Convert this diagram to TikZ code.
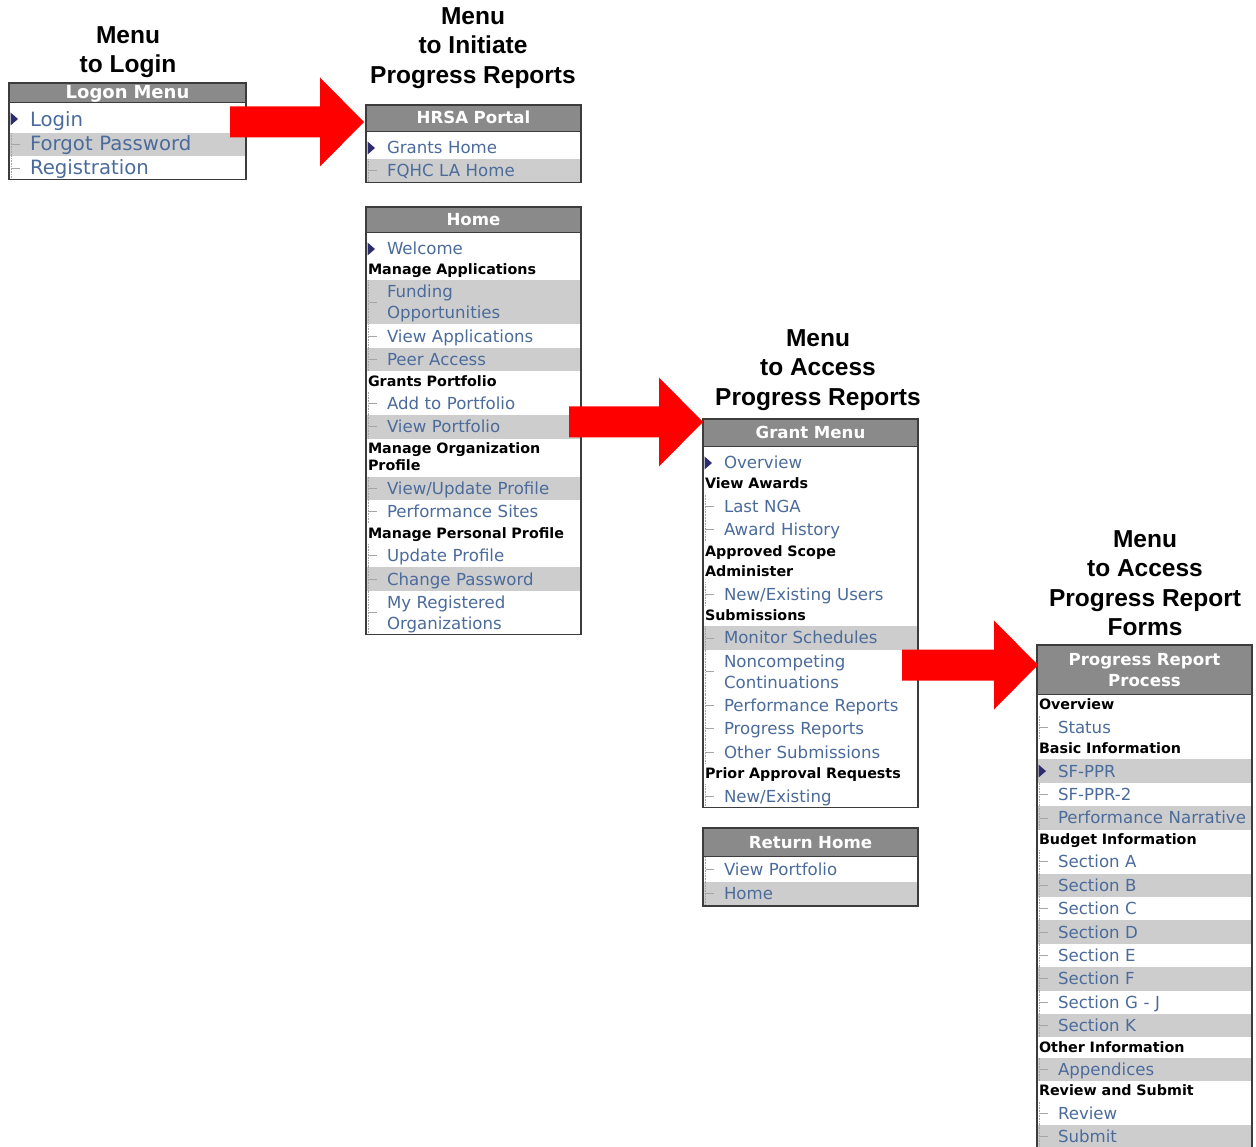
\documentclass[tikz,border=0pt]{standalone}
\usepackage{fontspec}
\setmainfont{DejaVu Sans}
\newfontfamily\captionfont{Liberation Sans}
\usetikzlibrary{calc,positioning}
\definecolor{hdrgray}{HTML}{8A8A8A}
\definecolor{rowgray}{HTML}{CDCDCD}
\definecolor{linkblue}{HTML}{4B6B9B}
\definecolor{navytri}{HTML}{2C2C6E}
\definecolor{boxline}{HTML}{3C3C3C}
\definecolor{leadgray}{HTML}{A5A5A5}
\definecolor{alertred}{HTML}{FF0000}

\newcommand\itmfont{\fontsize{16.6}{21}\selectfont}
\newcommand\secfont{\fontsize{14.3}{17}\selectfont\bfseries}
\newcommand\hdrfont{\fontsize{16.6}{21}\selectfont\bfseries}
\newcommand\panelw{215pt}
% fat red arrow from a start point to its tip (both at the same height)
\newcommand\bigarrow[2]{%
  \fill[alertred] ($(#1)+(0,-15.5)$) -- ($(#2)+(-44,-15.5)$) -- ($(#2)+(-44,-44.5)$) -- (#2)
    -- ($(#2)+(-44,44.5)$) -- ($(#2)+(-44,15.5)$) -- ($(#1)+(0,15.5)$) -- cycle;}

\begin{document}
\begin{tikzpicture}[x=1pt,y=-1pt,
  row/.style={anchor=north west,inner sep=0pt,outer sep=0pt,text width=\panelw,minimum width=\panelw,align=left},
  hdr/.style={row,fill=hdrgray,draw=boxline,line width=1.2pt,text=white,font=\hdrfont,align=center,
    text height=13.5pt,text depth=2.5pt,minimum height=27pt},
  leadline/.style={leadgray,line width=.8pt},
  treeline/.style={leadgray,line width=.6pt,densely dotted},
  itm/.style={row,fill=white,font=\itmfont,text=linkblue,text height=14pt,text depth=2pt,minimum height=23.4pt,
    execute at begin node={\leftskip=21pt},
    path picture={
      \draw[treeline] ([xshift=2pt]path picture bounding box.north west) -- ([xshift=2pt]path picture bounding box.south west);
      \draw[leadline] ([xshift=3pt]path picture bounding box.west) -- ([xshift=11pt]path picture bounding box.west);}},
  gry/.style={itm,fill=rowgray},
  curmark/.style={path picture={
      \fill[navytri] ([xshift=1.5pt,yshift=6.5pt-#1]path picture bounding box.west) -- ([xshift=9pt,yshift=-#1]path picture bounding box.west)
        -- ([xshift=1.5pt,yshift=-6.5pt-#1]path picture bounding box.west) -- cycle;}},
  curmark/.default=0pt,
  firstitm/.style={itm,curmark=2.5pt,text height=16.5pt,text depth=0pt,minimum height=27pt},
  loginitm/.style={firstitm,curmark=1pt,text height=17pt,minimum height=30pt},
  gcur/.style={gry,curmark},
  two/.style={itm,text depth=23pt,minimum height=44pt},
  gtwo/.style={two,fill=rowgray},
  sec/.style={row,fill=white,font=\secfont,text=black,text height=11.5pt,text depth=2.5pt,minimum height=20.5pt,
    execute at begin node={\leftskip=2pt}},
  sectwo/.style={sec,text depth=19.5pt,minimum height=38pt},
  panelbox/.style={draw=boxline,line width=1.2pt},
  menutitle/.style={anchor=north,align=center,inner sep=0pt,font=\captionfont\fontsize{24.5}{29.5}\selectfont\bfseries}]

\useasboundingbox[fill=white] (0,0) rectangle (1256,1147);

% login menu
\begin{scope}
\renewcommand\itmfont{\fontsize{19.7}{23}\selectfont}
\renewcommand\hdrfont{\fontsize{18}{22}\selectfont\bfseries}
\renewcommand\panelw{237pt}
\node[hdr,minimum height=20pt,text height=14pt,text depth=3pt,alias=logon-0] (logon) at (9,83) {Logon Menu};
\foreach \s/\t [count=\k, remember=\k as \j (initially 0)] in {loginitm/Login, gry/Forgot Password, itm/Registration}
  \node[\s,below=0pt of logon-\j] (logon-\k) {\t};
\draw[panelbox] (logon.north west) rectangle (logon-3.south east);
\end{scope}

% portal
\node[hdr,alias=portal-0] (portal) at (366,105) {HRSA Portal};
\foreach \s/\t [count=\k, remember=\k as \j (initially 0)] in {firstitm/Grants Home, gry/FQHC LA Home}
  \node[\s,below=0pt of portal-\j] (portal-\k) {\t};
\draw[panelbox] (portal.north west) rectangle (portal-2.south east);

% home
\node[hdr,minimum height=26pt,alias=home-0] (home) at (366,207) {Home};
\foreach \s/\t [count=\k, remember=\k as \j (initially 0)] in {
    firstitm/Welcome, sec/Manage Applications, gtwo/{Funding\\Opportunities},
    itm/View Applications, gry/Peer Access, sec/Grants Portfolio, itm/Add to Portfolio,
    gry/View Portfolio, sectwo/{Manage Organization\\Profile}, gry/{View/Update Profile},
    itm/Performance Sites, sec/Manage Personal Profile, itm/Update Profile,
    gry/Change Password, two/{My Registered\\Organizations}}
  \node[\s,below=0pt of home-\j] (home-\k) {\t};
\draw[panelbox] (home.north west) rectangle (home-15.south east);

% grant menu
\node[hdr,minimum height=28pt,alias=grant-0] (grant) at (703,419) {Grant Menu};
\foreach \s/\t [count=\k, remember=\k as \j (initially 0)] in {
    firstitm/Overview, sec/View Awards, itm/Last NGA, itm/Award History,
    sec/Approved Scope, sec/Administer, itm/{New/Existing Users}, sec/Submissions,
    gry/Monitor Schedules, two/{Noncompeting\\Continuations}, itm/Performance Reports,
    itm/Progress Reports, itm/Other Submissions, sec/Prior Approval Requests, itm/{New/Existing}}
  \node[\s,below=0pt of grant-\j] (grant-\k) {\t};
\draw[panelbox] (grant.north west) rectangle (grant-15.south east);

% return home
\node[hdr,minimum height=29pt,alias=back-0] (back) at (703,828) {Return Home};
\foreach \s/\t [count=\k, remember=\k as \j (initially 0)] in {itm/View Portfolio, gry/Home}
  \node[\s,below=0pt of back-\j,minimum height=24.5pt] (back-\k) {\t};
\draw[panelbox] (back.north west) rectangle (back-2.south east);

% progress report forms (runs off the page)
\node[hdr,text depth=23.5pt,minimum height=50pt,alias=forms-0] (forms) at (1037,645) {Progress Report\\Process};
\foreach \s/\t [count=\k, remember=\k as \j (initially 0)] in {
    sec/Overview, itm/Status, sec/Basic Information, gcur/SF-PPR, itm/SF-PPR-2,
    gry/Performance Narrative, sec/Budget Information, itm/Section A, gry/Section B,
    itm/Section C, gry/Section D, itm/Section E, gry/Section F, itm/Section G - J,
    gry/Section K, sec/Other Information, gry/Appendices, sec/Review and Submit,
    itm/Review, gry/Submit}
  \node[\s,below=0pt of forms-\j] (forms-\k) {\t};
\draw[panelbox] (forms-20.south west) -- (forms.north west) -- (forms.north east) -- (forms-20.south east);

% titles
\node[menutitle] (cap1) at (128,26.25) {Menu\\to Login};
\node[menutitle] (cap2) at (473,7.25) {Menu\\to Initiate\\Progress Reports};
\node[menutitle] (cap3) at (818,329.25) {Menu\\to Access\\Progress Reports};
\node[menutitle] (cap4) at (1145,530.25) {Menu\\to Access\\Progress Report\\Forms};

% red arrows
\coordinate (s1) at (230,122);
\coordinate (t1) at ($(portal.west)+(-2,3.5)$);
\coordinate (s2) at (569,422);
\coordinate (t2) at ($(grant.west)+(0,-11)$);
\coordinate (s3) at (902,665);
\coordinate (t3) at ($(forms.west)+(1,-5)$);
\bigarrow{s1}{t1}
\bigarrow{s2}{t2}
\bigarrow{s3}{t3}
\end{tikzpicture}
\end{document}
